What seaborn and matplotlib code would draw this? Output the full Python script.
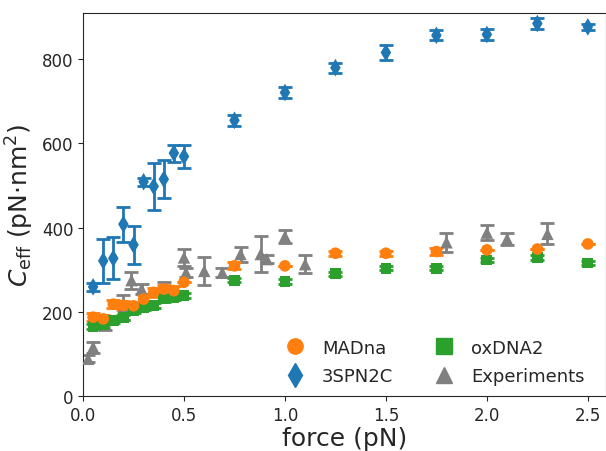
import numpy as np
import pandas as pd
import seaborn as sns
import matplotlib
matplotlib.use("Agg")
import matplotlib.pyplot as plt

sns.set_style("ticks")
plt.rcParams["font.family"] = ["DejaVu Sans"]

# MADna
mad_f = [0.05, 0.10, 0.15, 0.20, 0.25, 0.30, 0.35, 0.40, 0.45, 0.50,
         0.75, 1.00, 1.25, 1.50, 1.75, 2.00, 2.25, 2.50]
mad_c = [187, 183, 218, 215, 214, 230, 246, 254, 250, 270,
         309, 309, 339, 339, 343, 347, 349, 361]
mad_e = [10, 10, 10, 10, 10, 10, 10, 10, 10, 0,
         8, 0, 6, 6, 8, 0, 0, 0]

# oxDNA2
ox_f = [0.05, 0.10, 0.15, 0.20, 0.25, 0.30, 0.35, 0.40, 0.45, 0.50,
        0.75, 1.00, 1.25, 1.50, 1.75, 2.00, 2.25, 2.50]
ox_c = [165, 170, 179, 187, 203, 209, 215, 230, 234, 238,
        275, 272, 290, 303, 303, 323, 329, 316]
ox_e = [6, 6, 6, 6, 6, 6, 6, 6, 6, 6,
        5, 5, 5, 5, 5, 5, 5, 5]

# 3SPN2C
spn_f = [0.05, 0.10, 0.15, 0.20, 0.25, 0.30, 0.35, 0.40, 0.45, 0.50,
         0.75, 1.00, 1.25, 1.50, 1.75, 2.00, 2.25, 2.50]
spn_c = [259, 321, 327, 408, 359, 509, 498, 515, 577, 569,
         655, 721, 780, 816, 857, 859, 885, 877]
spn_e = [10, 52, 50, 42, 45, 10, 56, 45, 20, 27,
         13, 12, 12, 18, 12, 12, 12, 8]

# Experiments
exp_f = [0.025, 0.05, 0.11, 0.20, 0.24, 0.29, 0.40, 0.50, 0.51, 0.60,
         0.69, 0.78, 0.88, 0.91, 1.00, 1.10, 1.80, 2.00, 2.10, 2.30]
exp_c = [88, 116, 171, 210, 275, 254, 258, 329, 293, 297,
         293, 337, 337, 325, 379, 313, 365, 388, 373, 385]
exp_e = [8, 13, 15, 30, 20, 11, 13, 20, 10, 33,
         10, 18, 42, 10, 15, 22, 22, 18, 15, 25]

series = [
    ("MADna", mad_f, mad_c, mad_e, "#ff7f0e", "o"),
    ("3SPN2C", spn_f, spn_c, spn_e, "#1f77b4", "d"),
    ("oxDNA2", ox_f, ox_c, ox_e, "#2ca02c", "s"),
    ("Experiments", exp_f, exp_c, exp_e, "#808080", "^"),
]
sizes = {"o": 70, "d": 80, "s": 60, "^": 80}

fig, ax = plt.subplots(figsize=(6.06, 4.52), dpi=100)
fig.subplots_adjust(left=0.137, right=1.0, top=0.969, bottom=0.122)

for name, f, c, e, col, mk in [series[3], series[2], series[0], series[1]]:
    ax.errorbar(f, c, yerr=e, fmt="none", ecolor=col, elinewidth=2,
                capsize=5, capthick=2, zorder=2)
    df = pd.DataFrame({"force": f, "C": c})
    sns.scatterplot(data=df, x="force", y="C", ax=ax, color=col, marker=mk,
                    s=sizes[mk], edgecolor="none", zorder=3)

handles = [plt.Line2D([], [], color=col, marker=mk, linestyle="none",
                      markersize=11 if mk != "d" else 12)
           for _, _, _, _, col, mk in series]
labels = [s[0] for s in series]
ax.legend(handles, labels, ncol=2, loc="lower right", frameon=False,
          fontsize=13, bbox_to_anchor=(0.99, -0.015), handletextpad=0.5,
          columnspacing=1.8, labelspacing=0.6)

ax.set_xlim(0, 2.59)
ax.set_ylim(0, 910)
ax.set_xticks([0.0, 0.5, 1.0, 1.5, 2.0, 2.5])
ax.set_yticks([0, 200, 400, 600, 800])
ax.tick_params(labelsize=12)
ax.set_xlabel("force (pN)", fontsize=18, labelpad=2)
ax.set_ylabel(r"$C_\mathrm{eff}$ (pN$\cdot$nm$^2$)", fontsize=18)
for sp in ax.spines.values():
    sp.set_visible(True)

fig.savefig("out.png", dpi=100)
